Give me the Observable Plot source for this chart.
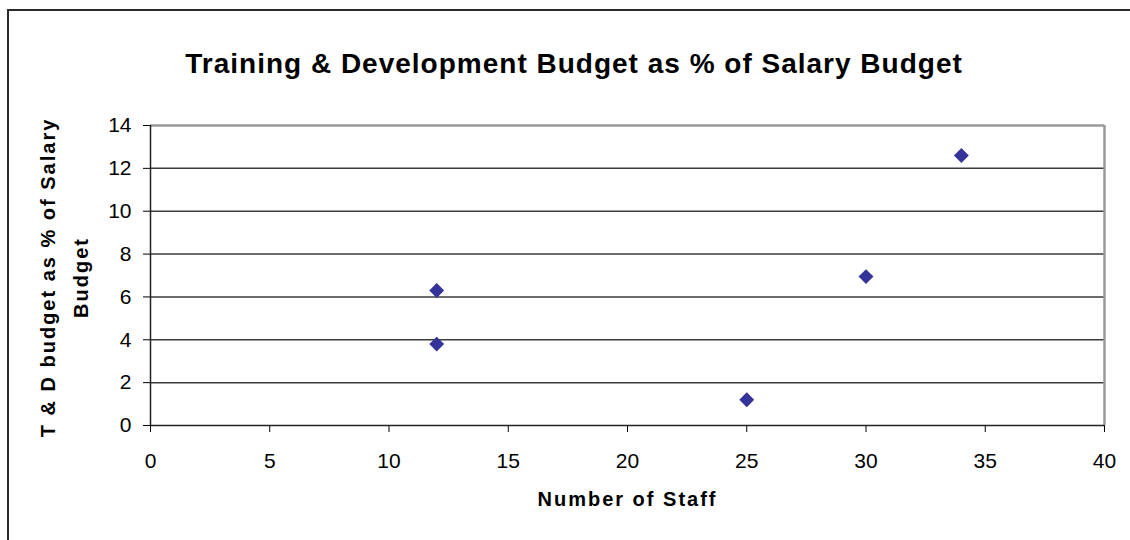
<!DOCTYPE html>
<html>
<head>
<meta charset="utf-8">
<script src="https://cdn.jsdelivr.net/npm/d3@7"></script>
<script src="https://cdn.jsdelivr.net/npm/@observablehq/plot@0.6"></script>
<style>
  html, body { margin: 0; padding: 0; background: #fff; overflow: hidden; }
  #wrap { position: relative; width: 1130px; height: 540px; }
  #wrap svg { display: block; position: absolute; left: 0; top: 0; }
  .bl { position: absolute; background: #2a2a2a; }
  svg g[aria-description="chart-title"] text { letter-spacing: 1px; }
  svg g[aria-description="x-title"] text, svg g[aria-description="y-title"] text { letter-spacing: 2px; }
</style>
</head>
<body>
<div id="wrap">
  <div class="bl" style="left:7px;top:9px;width:2px;height:531px"></div>
  <div class="bl" style="left:7px;top:9px;width:1123px;height:2px"></div>
</div>
<script>
// ---- data ----
const staff = [12, 12, 25, 30, 34];
const tdPct = [6.3, 3.8, 1.2, 6.95, 12.6];
const xTicks = [0, 5, 10, 15, 20, 25, 30, 35, 40];
const yTicks = [0, 2, 4, 6, 8, 10, 12, 14];
const chartTitle = "Training & Development Budget as % of Salary Budget";
const xTitle = "Number of Staff";
const yTitle = "T & D budget as % of Salary\nBudget";

const points = staff.map((s, i) => ({staff: s, pct: tdPct[i]}));
const innerGrid = yTicks.filter(v => v > 0 && v < 14);

const chart = Plot.plot({
  width: 1130,
  height: 540,
  marginLeft: 150,
  marginRight: 26,
  marginTop: 125,
  marginBottom: 115,
  style: {
    fontFamily: "'Liberation Sans', Arial, sans-serif",
    fontSize: "21px",
    color: "#000",
    background: "transparent",
    overflow: "visible"
  },
  x: {domain: [0, 40], ticks: xTicks, tickSize: 7, tickPadding: 21, label: null},
  y: {domain: [0, 14], ticks: yTicks, tickSize: 7, tickPadding: 12, label: null},
  marks: [
    Plot.ruleY(innerGrid, {stroke: "#3c3c3c", strokeWidth: 1.5}),
    Plot.ruleY([14], {stroke: "#9a9a9a", strokeWidth: 2.5}),
    Plot.ruleX([40], {stroke: "#9a9a9a", strokeWidth: 2.5}),
    Plot.ruleY([0], {stroke: "#222", strokeWidth: 1.5}),
    Plot.ruleX([0], {stroke: "#222", strokeWidth: 1.5}),
    Plot.dot(points, {x: "staff", y: "pct", symbol: "diamond2", r: 6.7, fill: "#333399", stroke: "none"}),
    Plot.text([chartTitle], {text: d => d, frameAnchor: "top", dx: -53.5, dy: -72, fontSize: 28, fontWeight: "bold", fill: "#000", ariaDescription: "chart-title"}),
    Plot.text([xTitle], {text: d => d, frameAnchor: "bottom", dy: 80, fontSize: 20, fontWeight: "bold", fill: "#000", ariaDescription: "x-title"}),
    Plot.text([yTitle], {text: d => d, frameAnchor: "left", textAnchor: "middle", dx: -90, dy: 2, rotate: -90, lineHeight: 1.65, fontSize: 20, fontWeight: "bold", fill: "#000", ariaDescription: "y-title"})
  ]
});

document.getElementById("wrap").prepend(chart);
</script>
</body>
</html>
